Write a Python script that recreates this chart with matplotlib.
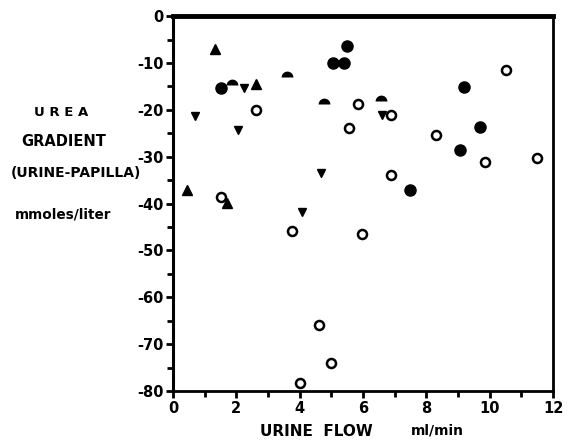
import numpy as np
import matplotlib.pyplot as plt

plt.rcParams['font.family'] = ['DejaVu Sans']
plt.rcParams['axes.unicode_minus'] = False

# filled circles
fc_x = [1.5, 5.05, 5.4, 5.5, 9.18, 9.68, 9.07, 7.48]
fc_y = [-15.4, -10.0, -10.0, -6.3, -15.1, -23.7, -28.6, -37.1]

# open circles
oc_x = [2.63, 5.85, 5.57, 1.5, 10.52, 6.89, 8.29, 9.85, 11.48, 6.88, 3.75, 5.98, 4.6, 4.98, 4.0]
oc_y = [-20.1, -18.8, -23.9, -38.5, -11.4, -21.0, -25.4, -31.2, -30.2, -33.8, -45.8, -46.6, -66.0, -74.1, -78.4]

# upward triangles
ut_x = [1.34, 2.63, 0.44, 1.69]
ut_y = [-7.1, -14.4, -37.1, -39.9]

# downward triangles
dt_x = [0.71, 2.23, 2.05, 4.68, 4.07, 6.61]
dt_y = [-21.3, -15.3, -24.2, -33.5, -41.7, -21.1]

# half filled circles
hc_x = [1.85, 3.6, 4.76, 6.58]
hc_y = [-14.6, -12.9, -18.8, -18.1]

fig = plt.figure(figsize=(5.68, 4.41), dpi=100)
ax = fig.add_axes([0.3046, 0.1134, 0.669, 0.850])

ax.plot(fc_x, fc_y, 'o', color='black', markersize=8, linestyle='none')
ax.plot(oc_x, oc_y, 'o', markerfacecolor='white', markeredgecolor='black',
        markeredgewidth=1.8, markersize=6.5, linestyle='none')
ax.plot(ut_x, ut_y, '^', color='black', markersize=6.5, linestyle='none')
ax.plot(dt_x, dt_y, 'v', color='black', markersize=6.3, linestyle='none')
ax.plot(hc_x, hc_y, 'o', color='black', fillstyle='top', markeredgewidth=0,
        markersize=8.5, linestyle='none')

ax.set_xlim(0, 12)
ax.set_ylim(-80, 0)
ax.set_xticks(np.arange(0, 13, 2))
ax.set_xticks(np.arange(1, 12, 2), minor=True)
ax.set_yticks(np.arange(-80, 1, 10))
ax.set_yticks(np.arange(-75, 0, 10), minor=True)
ax.set_xticklabels(['0', '2', '4', '6', '8', '10', '12'])
ax.set_yticklabels(['-80', '-70', '-60', '-50', '-40', '-30', '-20', '-10', '0'])

ax.tick_params(axis='both', which='major', length=5, width=2, labelsize=10.5,
               direction='out', pad=2)
ax.tick_params(axis='both', which='minor', length=4, width=2, direction='out')
for lab in ax.get_xticklabels() + ax.get_yticklabels():
    lab.set_fontweight('bold')

ax.spines['top'].set_linewidth(3.5)
ax.spines['left'].set_linewidth(2.2)
ax.spines['right'].set_linewidth(2)
ax.spines['bottom'].set_linewidth(2)

fig.text(61 / 568, 1 - 113 / 441, 'U R E A', ha='center', va='center',
         fontsize=9.5, fontweight='bold')
fig.text(64 / 568, 1 - 142 / 441, 'GRADIENT', ha='center', va='center',
         fontsize=10.5, fontweight='bold')
fig.text(76 / 568, 1 - 173 / 441, '(URINE-PAPILLA)', ha='center', va='center',
         fontsize=10, fontweight='bold')
fig.text(63 / 568, 1 - 215 / 441, 'mmoles/liter', ha='center', va='center',
         fontsize=9.8, fontweight='bold')
fig.text(316 / 568, 1 - 431 / 441, 'URINE  FLOW', ha='center', va='center',
         fontsize=11, fontweight='bold')
fig.text(437 / 568, 1 - 431 / 441, 'ml/min', ha='center', va='center',
         fontsize=10, fontweight='bold')

fig.savefig('out.png', dpi=100)
